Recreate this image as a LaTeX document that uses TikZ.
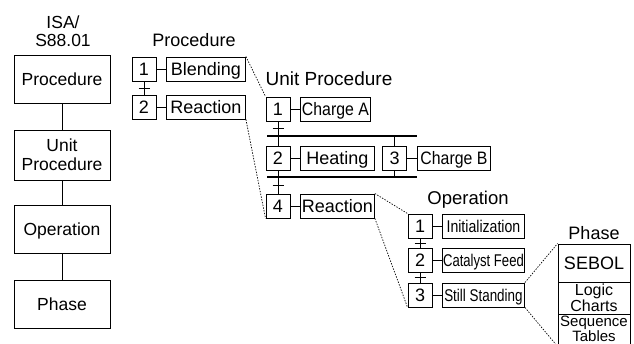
\documentclass[tikz,border=0pt]{standalone}
\usepackage{fontspec}
\setmainfont{Liberation Sans}
\usetikzlibrary{calc}
\newcommand\fsz[2]{\fontsize{#1}{#2}\selectfont}
\newcommand\narrow[2]{\scalebox{#1}[1]{#2}}

\begin{document}
\begin{tikzpicture}[x=1pt,y=-1pt,
  box/.style={draw,line width=0.9pt,inner sep=0pt,font=\fsz{18}{20},
    text height=12.9pt,text depth=0pt},
  stepbox/.style={box,minimum width=24pt,minimum height=24pt},
  actbox/.style={box,anchor=west,minimum height=24pt},
  levelbox/.style={box,font=\fsz{17.5}{19},text height=12.5pt,
    minimum width=96pt,minimum height=48pt},
  phasebox/.style={box,minimum width=72pt},
  link/.style={line width=0.9pt},
  syncbar/.style={line width=2.6pt},
  zoomline/.style={line width=0.7pt,dash pattern=on 1.4pt off 1.4pt},
  title/.style={anchor=base,inner sep=0pt,font=\fsz{18}{18}}]
\clip (0,0) rectangle (634,344);

% ---- ISA/S88.01 hierarchy ----
\node[title,align=center,font=\fsz{17.5}{18}] (isa) at (63,47) {ISA/\\S88.01};
\node[levelbox] (l1) at (62,79) {Procedure};
\node[levelbox,minimum height=50pt,align=center,text height=31.5pt] (l2) at (62,155) {Unit\\Procedure};
\node[levelbox] (l3) at (62,229) {Operation};
\node[levelbox] (l4) at (62,304) {Phase};
\draw[link] (l1.south) -- (l2.north);
\draw[link] (l2.south) -- (l3.north);
\draw[link] (l3.south) -- (l4.north);

% ---- Procedure ----
\node[title] (tp) at (194,47) {Procedure};
\node[stepbox] (p1) at (144,69) {1};
\node[actbox,minimum width=79pt] (pa1) at (166,69) {Blending};
\node[stepbox] (p2) at (144,107) {2};
\node[actbox,minimum width=79pt] (pa2) at (166,107) {Reaction};
\draw[link] (p1.east) -- (pa1.west);
\draw[link] (p2.east) -- (pa2.west);
\draw[link] (p1.south) -- (p2.north);
\draw[link] ($(p1.south)!0.5!(p2.north)$) ++(-5.5pt,0) -- ++(11pt,0);

% ---- Unit Procedure ----
\node[title,font=\fsz{19}{19}] (tu) at (329,86) {Unit Procedure};
\node[stepbox] (u1) at (278,109) {1};
\node[actbox,minimum width=70pt] (ua1) at (300,109) {\narrow{0.88}{Charge A}};
\node[stepbox] (u2) at (278,158) {2};
\node[actbox,minimum width=74pt] (ua2) at (300,158) {Heating};
\node[stepbox] (u3) at (394.5,158) {3};
\node[actbox,minimum width=73pt] (ua3) at (417,158) {\narrow{0.88}{Charge B}};
\node[stepbox] (u4) at (278,206) {4};
\node[actbox,minimum width=74pt] (ua4) at (300,206) {Reaction};
\coordinate (b1w) at (267,136);
\coordinate (b1e) at (417,136);
\coordinate (b2w) at (267,177);
\coordinate (b2e) at (417,177);
\draw[link] (u1.east) -- (ua1.west);
\draw[link] (u2.east) -- (ua2.west);
\draw[link] (u3.east) -- (ua3.west);
\draw[link] (u4.east) -- (ua4.west);
\draw[link] (u1.south) -- (u1.south |- b1w);
\draw[link] (u1.south |- b1w) -- (u2.north);
\draw[link] (u3.north) -- (u3.north |- b1w);
\draw[link] (u2.south) -- (u2.south |- b2w);
\draw[link] (u3.south) -- (u3.south |- b2w);
\draw[link] (u2.south |- b2w) -- (u4.north);
\draw[syncbar] (b1w) -- (b1e);
\draw[syncbar] (b2w) -- (b2e);
\draw[link] ($(u1.south)!0.5!(u1.south |- b1w)$) ++(-5.5pt,0) -- ++(11pt,0);
\draw[link] ($(u4.north)!0.5!(u4.north |- b2w)$) ++(-5.5pt,0) -- ++(11pt,0);

% ---- Operation ----
\node[title,font=\fsz{18.5}{18.5}] (to) at (468,205) {Operation};
\node[stepbox] (o1) at (420,226) {1};
\node[actbox,minimum width=82pt,font=\fsz{17}{17}] (oa1) at (442,226) {\narrow{0.83}{Initialization}};
\node[stepbox] (o2) at (420,260) {2};
\node[actbox,minimum width=82pt,font=\fsz{17}{17}] (oa2) at (442,260) {\narrow{0.77}{Catalyst Feed}};
\node[stepbox] (o3) at (420,295) {3};
\node[actbox,minimum width=82pt,font=\fsz{17}{17}] (oa3) at (442,295) {\narrow{0.79}{Still Standing}};
\draw[link] (o1.east) -- (oa1.west);
\draw[link] (o2.east) -- (oa2.west);
\draw[link] (o3.east) -- (oa3.west);
\draw[link] (o1.south) -- (o2.north);
\draw[link] (o2.south) -- (o3.north);
\draw[link] ($(o1.south)!0.5!(o2.north)$) ++(-5.5pt,0) -- ++(11pt,0);
\draw[link] ($(o2.south)!0.5!(o3.north)$) ++(-5.5pt,0) -- ++(11pt,0);

% ---- Phase ----
\node[title] (tph) at (594,240) {Phase};
\node[phasebox,minimum height=38pt] (ph1) at (594,263) {SEBOL};
\node[phasebox,minimum height=32pt,align=center,font=\fsz{16}{16.5},
  text height=28pt] (ph2) at (594,298) {Logic\\Charts};
\node[phasebox,minimum height=32pt,align=center,font=\fsz{15}{15.5},
  text height=23pt] (ph3) at (594,330) {Sequence\\Tables};

% ---- expansion lines between levels ----
\draw[zoomline] (pa1.north east) -- (u1.north west);
\draw[zoomline] (pa2.south east) -- (u4.south west);
\draw[zoomline] (ua4.north east) -- (o1.north west);
\draw[zoomline] (ua4.south east) -- (o3.south west);
\draw[zoomline] (oa3.north east) -- (ph1.north west);
\draw[zoomline] (oa3.south east) -- (ph3.south west);
\end{tikzpicture}
\end{document}
